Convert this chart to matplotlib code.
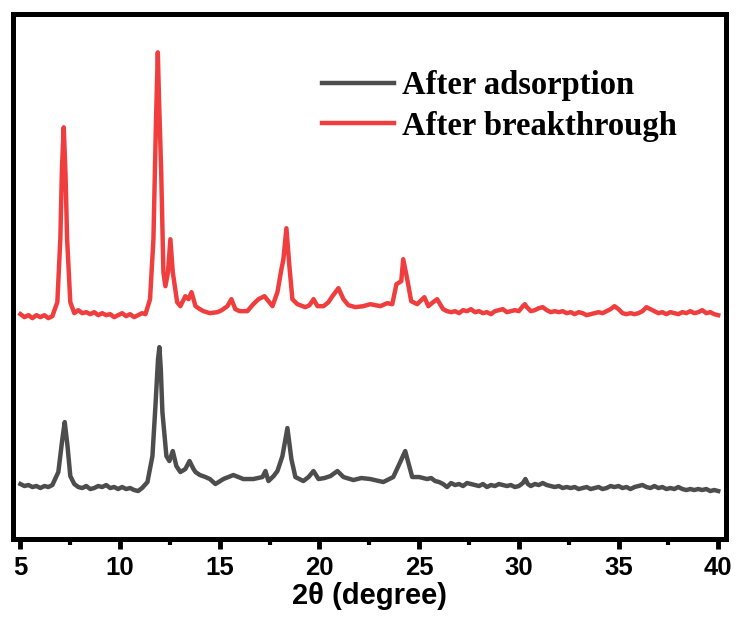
import numpy as np
import matplotlib.pyplot as plt
from matplotlib.ticker import MultipleLocator

# 2theta (degree) and intensity (a.u.)
theta_breakthrough = [
    5.0, 5.2, 5.4, 5.6, 5.8, 6.0, 6.2, 6.4, 6.6, 6.85, 7.0, 7.08, 7.17, 7.26, 7.34,
    7.5, 7.7, 7.9, 8.1, 8.3, 8.5, 8.7, 8.9, 9.1, 9.3, 9.5, 9.7, 9.9, 10.1, 10.3, 10.5,
    10.7, 10.9, 11.1, 11.27, 11.5, 11.67, 11.8, 11.89, 11.95, 12.06, 12.17, 12.27,
    12.4, 12.52, 12.64, 12.86, 13.02, 13.27, 13.43, 13.58, 13.78, 14.0, 14.18, 14.5,
    14.88, 15.1, 15.38, 15.58, 15.78, 16.0, 16.38, 16.68, 16.94, 17.24, 17.44, 17.64,
    17.89, 18.09, 18.19, 18.34, 18.49, 18.64, 18.89, 19.29, 19.5, 19.7, 19.9, 20.2,
    20.45, 20.65, 20.95, 21.2, 21.45, 21.8, 22.2, 22.55, 23.05, 23.4, 23.65, 23.86,
    24.1, 24.2, 24.4, 24.6, 24.9, 25.26, 25.46, 25.7, 25.9, 26.2, 26.4, 26.6, 26.8,
    27.0, 27.2, 27.4, 27.6, 27.8, 28.0, 28.2, 28.4, 28.6, 28.8, 29.0, 29.2, 29.4,
    29.6, 29.8, 30.0, 30.2, 30.3, 30.4, 30.6, 30.8, 31.0, 31.2, 31.4, 31.6, 31.8,
    32.0, 32.2, 32.4, 32.6, 32.8, 33.0, 33.2, 33.4, 33.6, 33.8, 34.0, 34.2, 34.4,
    34.6, 34.8, 35.0, 35.2, 35.4, 35.6, 35.8, 36.0, 36.2, 36.4, 36.6, 36.8, 37.0,
    37.2, 37.4, 37.6, 37.8, 38.0, 38.2, 38.4, 38.6, 38.8, 39.0, 39.2, 39.4, 39.6,
    39.8, 40.0,
]
int_breakthrough = [
    225, 222, 224, 221, 224, 222, 224, 221, 223, 237, 300, 370, 412, 365, 300,
    237, 226, 229, 226, 227, 225, 227, 224, 226, 224, 225, 222, 224, 226, 223, 225,
    222, 224, 226, 225, 240, 300, 420, 487, 440, 367, 267, 253,
    267, 300, 267, 237, 233, 243, 240, 247, 233, 230, 228, 226,
    227, 229, 233, 240, 230, 228, 228, 235, 240, 243, 238, 233,
    247, 270, 280, 311, 273, 240, 235, 232, 234, 240, 233, 233,
    237, 243, 251, 240, 234, 232, 233, 235, 233, 236, 235, 255,
    258, 280, 260, 238, 235, 242, 233, 237, 240, 230, 228, 227, 228,
    226, 229, 228, 230, 227, 228, 226, 227, 225, 228, 229, 230, 227,
    228, 229, 228, 233, 235, 232, 228, 229, 231, 232, 229, 227, 228,
    227, 228, 226, 227, 225, 227, 226, 224, 225, 226, 227, 226, 228,
    230, 233, 230, 226, 225, 226, 225, 226, 228, 232, 230, 228, 226,
    227, 225, 227, 226, 225, 227, 226, 228, 226, 227, 229, 226, 227,
    225, 224,
]

theta_adsorption = [
    5.0, 5.2, 5.4, 5.6, 5.8, 6.0, 6.2, 6.4, 6.6, 6.9, 7.1, 7.22, 7.36, 7.5, 7.7,
    7.9, 8.1, 8.3, 8.5, 8.7, 8.9, 9.1, 9.3, 9.5, 9.7, 9.9, 10.1, 10.3, 10.5, 10.7,
    10.9, 11.1, 11.37, 11.62, 11.77, 11.9, 11.97, 12.04, 12.12, 12.32, 12.47, 12.64,
    12.82, 13.02, 13.27, 13.48, 13.68, 13.78, 14.0, 14.28, 14.5, 14.78, 15.18, 15.68,
    16.18, 16.68, 17.14, 17.29, 17.44, 17.7, 17.89, 18.14, 18.39, 18.59, 18.79, 19.19,
    19.45, 19.7, 19.95, 20.25, 20.55, 20.9, 21.2, 21.7, 22.1, 22.55, 23.2, 23.7, 24.05,
    24.3, 24.45, 24.65, 25.0, 25.2, 25.4, 25.6, 25.8, 26.0, 26.2, 26.4, 26.6, 26.8,
    27.0, 27.2, 27.4, 27.6, 27.8, 28.0, 28.2, 28.4, 28.6, 28.8, 29.0, 29.2, 29.4,
    29.6, 29.8, 30.0, 30.2, 30.33, 30.45, 30.6, 30.8, 31.0, 31.2, 31.4, 31.6, 31.8,
    32.0, 32.2, 32.4, 32.6, 32.8, 33.0, 33.2, 33.4, 33.6, 33.8, 34.0, 34.2, 34.4,
    34.6, 34.8, 35.0, 35.2, 35.4, 35.6, 35.8, 36.0, 36.2, 36.4, 36.6, 36.8, 37.0,
    37.2, 37.4, 37.6, 37.8, 38.0, 38.2, 38.4, 38.6, 38.8, 39.0, 39.2, 39.4, 39.6,
    39.8, 40.0,
]
int_adsorption = [
    55, 53, 54, 52, 53, 51, 53, 52, 54, 67, 100, 117, 93, 63, 55,
    52, 51, 53, 50, 51, 53, 52, 54, 51, 52, 50, 52, 50, 51, 49,
    48, 51, 57, 83, 133, 180, 192, 170, 127, 83, 78, 88,
    73, 67, 70, 78, 70, 67, 64, 62, 60, 55, 60, 64,
    60, 60, 62, 68, 58, 63, 68, 83, 111, 80, 62, 58,
    62, 68, 60, 61, 63, 68, 62, 59, 61, 60, 57, 62, 77,
    88, 77, 62, 62, 61, 60, 61, 58, 57, 55, 52, 56, 54,
    55, 53, 56, 55, 54, 53, 55, 52, 54, 53, 55, 54, 53,
    54, 52, 53, 56, 60, 55, 53, 55, 54, 56, 54, 53, 52,
    53, 51, 52, 51, 52, 50, 51, 52, 50, 51, 52, 50, 51,
    53, 52, 53, 51, 52, 50, 52, 53, 54, 52, 51, 53, 51,
    52, 50, 51, 50, 52, 50, 49, 50, 49, 50, 49, 50, 48,
    49, 48,
]

plt.rcParams['font.family'] = ['Liberation Sans', 'DejaVu Sans']

fig = plt.figure(figsize=(7.41, 6.26), dpi=100)
ax = fig.add_axes([0.0182, 0.139, 0.9618, 0.838])

ax.plot(theta_adsorption, int_adsorption, color='#4D4D4D', lw=3.2, label='After adsorption')
ax.plot(theta_breakthrough, int_breakthrough, color='#F03E3E', lw=3.2, label='After breakthrough')

ax.set_xlim(4.65, 40.4)
ax.set_ylim(0, 525)
ax.set_yticks([])
ax.xaxis.set_major_locator(MultipleLocator(5))
ax.xaxis.set_minor_locator(MultipleLocator(2.5))
ax.tick_params(axis='x', which='major', direction='out', length=7, width=3.5,
               labelsize=18.5, pad=5)
ax.tick_params(axis='x', which='minor', direction='out', length=4, width=3)
for lab in ax.get_xticklabels():
    lab.set_fontweight('bold')
for s in ax.spines.values():
    s.set_linewidth(3.6)

ax.set_xlabel('2θ (degree)', fontsize=21, fontweight='bold', labelpad=2)

leg = ax.legend(loc='upper left', bbox_to_anchor=(0.41, 0.925), frameon=False,
                handlelength=2.2, handletextpad=0.25, labelspacing=0.3, borderpad=0,
                prop={'family': 'Liberation Serif', 'weight': 'bold', 'size': 23.5})

fig.savefig('out.png', dpi=100)
